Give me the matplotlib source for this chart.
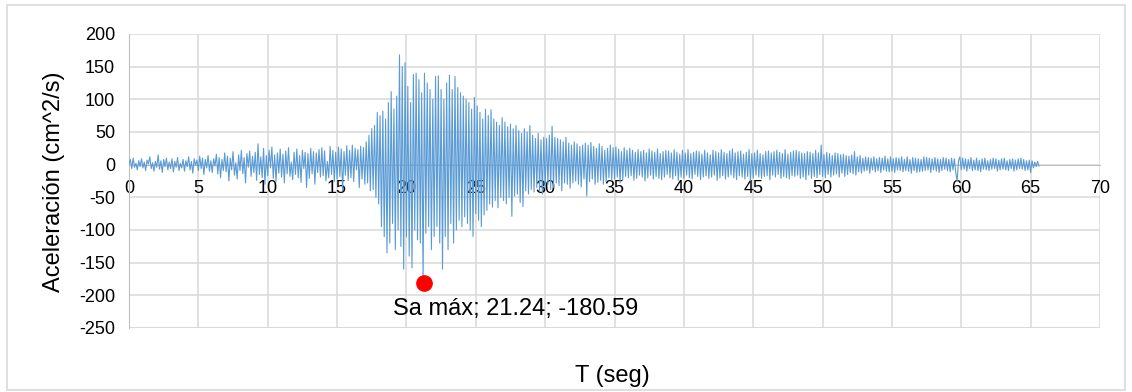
import numpy as np
import matplotlib
matplotlib.use('Agg')
import matplotlib.pyplot as plt
from matplotlib.patches import Rectangle

# aceleracion registrada cada 0.1 s (cm^2/s), una fila por segundo
dt = 0.1
acel = [
    0, 8, -6, 10, -4, 2, -8, 6, -3, 9,
    -5, 4, -9, 7, 1, 12, -6, 3, -10, 5,
    -4, 15, -7, 6, -12, 8, -3, 10, -8, 4,
    -6, 9, -11, 5, -4, 11, -9, 2, -5, 8,
    -10, 6, -3, 12, -8, 5, -13, 9, -1, 7,
    -9, 13, -6, 10, -15, 8, -5, 14, -10, 6,
    -12, 9, -2, 16, -14, 11, -20, 8, -9, 18,
    -11, 13, -25, 10, -8, 20, -16, 3, -22, 15,
    -9, 22, -14, 11, -28, 17, -4, 21, -18, 13,
    -12, 19, -24, 32, -15, 12, -20, 25, -30, 14,
    -17, 22, -5, 27, -21, 15, -26, 18, -13, 24,
    -19, 16, -28, 21, -14, 26, -18, 4, -23, 19,
    -15, 24, -20, 14, -27, 22, -6, 19, -35, 17,
    -21, 25, -14, 20, -30, 18, -12, 23, -19, 26,
    -17, 21, -25, 5, -20, 28, -15, 22, -26, 19,
    -22, 27, -18, 24, -40, 20, -16, 29, -24, 22,
    -20, 30, -26, 25, -8, 23, -35, 28, -22, 26,
    -30, 35, -28, 45, -40, 55, -38, 60, -50, 80,
    -60, 75, -95, 82, -110, 70, -135, 95, -120, 112,
    -90, 85, -130, 105, -100, 168, -125, 150, -160, 156,
    -110, 120, -140, 95, -158, 138, -100, 140, -115, 130,
    -120, 110, -180.59, 140, -105, 125, -95, 115, -130, 100,
    -110, 135, -95, 136, -120, 115, -160, 100, -110, 125,
    -130, 137, -90, 115, -120, 135, -100, 118, -85, 110,
    -95, 105, -80, 100, -90, 95, -100, 85, -110, 103,
    -75, 90, -85, 80, -95, 70, -77, 85, -70, 75,
    -60, 84, -65, 70, -55, 65, -66, 60, -50, 72,
    -55, 65, -60, 58, -50, 62, -79, 55, -48, 60,
    -45, 52, -58, 48, -64, 55, -40, 50, -45, 60,
    -38, 45, -42, 40, -35, 48, -40, 38, -45, 42,
    -36, 40, -30, 45, -38, 59, -35, 42, -28, 40,
    -32, 38, -40, 35, -28, 42, -30, 33, -36, 30,
    -28, 35, -25, 32, -30, 28, -34, 30, -22, 33,
    -48, 30, -26, 34, -22, 28, -30, 25, -27, 32,
    -24, 28, -30, 22, -26, 25, -20, 30, -24, 26,
    -22, 27, -19, 24, -28, 20, -23, 26, -18, 22,
    -20, 25, -17, 22, -24, 19, -21, 23, -16, 20,
    -19, 22, -25, 18, -20, 24, -16, 21, -22, 19,
    -18, 24, -21, 17, -23, 20, -19, 22, -15, 21,
    -20, 18, -22, 23, -17, 19, -24, 16, -19, 22,
    -21, 18, -16, 23, -20, 17, -22, 19, -15, 21,
    -18, 20, -23, 16, -19, 22, -17, 18, -21, 15,
    -19, 22, -16, 20, -24, 18, -20, 23, -17, 19,
    -22, 17, -19, 21, -16, 24, -20, 18, -23, 20,
    -17, 21, -19, 16, -22, 19, -18, 23, -25, 17,
    -20, 18, -16, 22, -19, 17, -21, 15, -18, 20,
    -17, 21, -23, 18, -16, 20, -19, 22, -15, 19,
    -21, 17, -18, 23, -20, 16, -22, 19, -17, 21,
    -18, 22, -16, 20, -21, 18, -19, 17, -23, 20,
    -16, 19, -21, 17, -18, 22, -20, 18, -15, 30,
    -18, 16, -20, 19, -15, 17, -19, 14, -16, 18,
    -14, 17, -19, 15, -13, 16, -18, 14, -15, 13,
    -12, 15, -14, 20, -16, 12, -11, 14, -13, 10,
    -10, 12, -9, 11, -13, 10, -8, 12, -11, 9,
    -9, 11, -12, 10, -8, 13, -10, 9, -11, 12,
    -10, 9, -12, 11, -8, 10, -9, 12, -11, 8,
    -9, 12, -10, 8, -13, 11, -9, 10, -12, 9,
    -11, 8, -10, 12, -9, 11, -8, 10, -12, 9,
    -8, 11, -10, 9, -12, 8, -9, 11, -7, 10,
    -9, 8, -11, 10, -8, 9, -12, -25, 6, 12,
    -8, 10, -7, 9, -10, 8, -6, 11, -9, 7,
    -8, 10, -9, 7, -11, 9, -7, 10, -8, 6,
    -9, 8, -7, 10, -6, 9, -10, 7, -8, 9,
    -7, 10, -8, 6, -9, 8, -6, 9, -10, 7,
    -8, 9, -6, 10, -7, 8, -9, 6, -8, 7,
    -12, 6, -5, 4, -3, 5, -2,
]
t = np.arange(len(acel)) * dt

peak_t = 21.24
peak_a = -180.59
peak_label = 'Sa máx; 21.24; -180.59'

xticks = list(range(0, 75, 5))
yticks = list(range(-250, 250, 50))

plt.rcParams['font.family'] = ['Liberation Sans', 'DejaVu Sans']
plt.rcParams['axes.unicode_minus'] = False

fig = plt.figure(figsize=(11.32, 3.92), dpi=100)
ax = fig.add_axes([129 / 1132, 1 - 328 / 392, (1100 - 129) / 1132, (328 - 34) / 392])

fig.patches.append(Rectangle((7 / 1132, 1 - 390 / 392), 1118 / 1132, 385 / 392,
                             transform=fig.transFigure, fill=False,
                             edgecolor='#d9d9d9', linewidth=1.2))

ax.plot(t, acel, color='#5b9bd5', linewidth=0.8, zorder=3)
ax.plot([peak_t], [peak_a], 'o', color='red', markersize=11, zorder=4)
ax.annotate(peak_label, (peak_t, peak_a), xytext=(-31, -26),
            textcoords='offset pixels', ha='left', va='center', fontsize=17)

ax.set_xlim(0, 70)
ax.set_ylim(-250, 200)
ax.set_xticks(xticks)
ax.set_yticks(yticks)
ax.grid(True, color='#d9d9d9', linewidth=1.1)
ax.set_axisbelow(True)

for s in ['top', 'right']:
    ax.spines[s].set_visible(False)
ax.spines['bottom'].set_position(('data', 0))
ax.spines['bottom'].set_color('#bfbfbf')
ax.spines['left'].set_color('#bfbfbf')
ax.spines['bottom'].set_zorder(2)
ax.tick_params(axis='both', length=0, labelsize=13)
ax.tick_params(axis='x', pad=11)
ax.tick_params(axis='y', pad=10)
# linea del borde inferior del area
ax.axhline(-250, color='#d9d9d9', linewidth=1.1, zorder=1)

fig.text(54 / 1132, 1 - 182 / 392, 'Aceleración (cm^2/s)', rotation=90,
         ha='center', va='center', fontsize=17)
fig.text(612 / 1132, 1 - 376 / 392, 'T (seg)', ha='center', va='center', fontsize=17)

fig.savefig('out.png', dpi=100)
